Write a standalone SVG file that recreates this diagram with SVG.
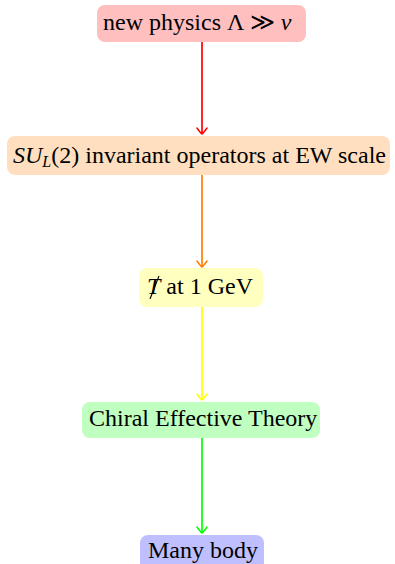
<svg xmlns="http://www.w3.org/2000/svg" width="395" height="564" viewBox="0 0 395 564">
  <defs>
    <style>
      .box { stroke: none; }
      .lbl { font-family: "Liberation Serif", "Times New Roman", serif; font-size: 24px; fill: #000; }
      .it { font-style: italic; }
      .edge { fill: none; stroke-width: 1.7; }
      .head { fill: none; stroke-width: 1.5; stroke-linecap: round; }
    </style>
    <marker id="to-red" markerWidth="14" markerHeight="14" viewBox="-7 -7 14 14" refX="0" refY="0" orient="auto" markerUnits="userSpaceOnUse">
      <path class="head" d="M -6 -5 Q -1 -1.5 0 0 Q -1 1.5 -6 5" stroke="#ff0000"/>
    </marker>
    <marker id="to-orange" markerWidth="14" markerHeight="14" viewBox="-7 -7 14 14" refX="0" refY="0" orient="auto" markerUnits="userSpaceOnUse">
      <path class="head" d="M -6 -5 Q -1 -1.5 0 0 Q -1 1.5 -6 5" stroke="#ff8000"/>
    </marker>
    <marker id="to-yellow" markerWidth="14" markerHeight="14" viewBox="-7 -7 14 14" refX="0" refY="0" orient="auto" markerUnits="userSpaceOnUse">
      <path class="head" d="M -6 -5 Q -1 -1.5 0 0 Q -1 1.5 -6 5" stroke="#ffff00"/>
    </marker>
    <marker id="to-green" markerWidth="14" markerHeight="14" viewBox="-7 -7 14 14" refX="0" refY="0" orient="auto" markerUnits="userSpaceOnUse">
      <path class="head" d="M -6 -5 Q -1 -1.5 0 0 Q -1 1.5 -6 5" stroke="#00ff00"/>
    </marker>
  </defs>
  <rect width="395" height="564" fill="#ffffff"/>

  <!-- connectors -->
  <g id="edges">
    <line class="edge" x1="202" y1="42" x2="202" y2="134" stroke="#ff0000" marker-end="url(#to-red)"/>
    <line class="edge" x1="202" y1="175" x2="202" y2="267" stroke="#ff8000" marker-end="url(#to-orange)"/>
    <line class="edge" x1="202" y1="307" x2="202" y2="400" stroke="#ffff00" marker-end="url(#to-yellow)"/>
    <line class="edge" x1="202" y1="438" x2="202" y2="533" stroke="#00ff00" marker-end="url(#to-green)"/>
  </g>

  <!-- nodes -->
  <g id="node-newphysics">
    <rect class="box" x="97" y="5" width="209" height="37" rx="8" fill="#ffbfbf"/>
    <text class="lbl" x="103" y="30">new physics Λ ≫ <tspan class="it">v</tspan></text>
  </g>

  <g id="node-su2">
    <rect class="box" x="7" y="136" width="383" height="39" rx="8" fill="#ffdfbf"/>
    <text class="lbl" x="13" y="163"><tspan class="it">SU</tspan><tspan class="it" font-size="16" dy="4">L</tspan><tspan dy="-4">(2) invariant operators at EW scale</tspan></text>
  </g>

  <g id="node-tviol">
    <rect class="box" x="139" y="268" width="124" height="39" rx="8" fill="#ffffbf"/>
    <text class="lbl" x="147" y="294"><tspan class="it">T</tspan> at 1 GeV</text>
    <!-- slash through the T -->
    <line x1="150" y1="299" x2="159" y2="276" stroke="#000" stroke-width="1.1"/>
  </g>

  <g id="node-chiral">
    <rect class="box" x="82" y="402" width="238" height="36" rx="8" fill="#bfffbf"/>
    <text class="lbl" x="89" y="426">Chiral Effective Theory</text>
  </g>

  <g id="node-manybody">
    <rect class="box" x="140" y="535" width="124" height="38" rx="8" fill="#bfbfff"/>
    <text class="lbl" x="148" y="558">Many body</text>
  </g>
</svg>
